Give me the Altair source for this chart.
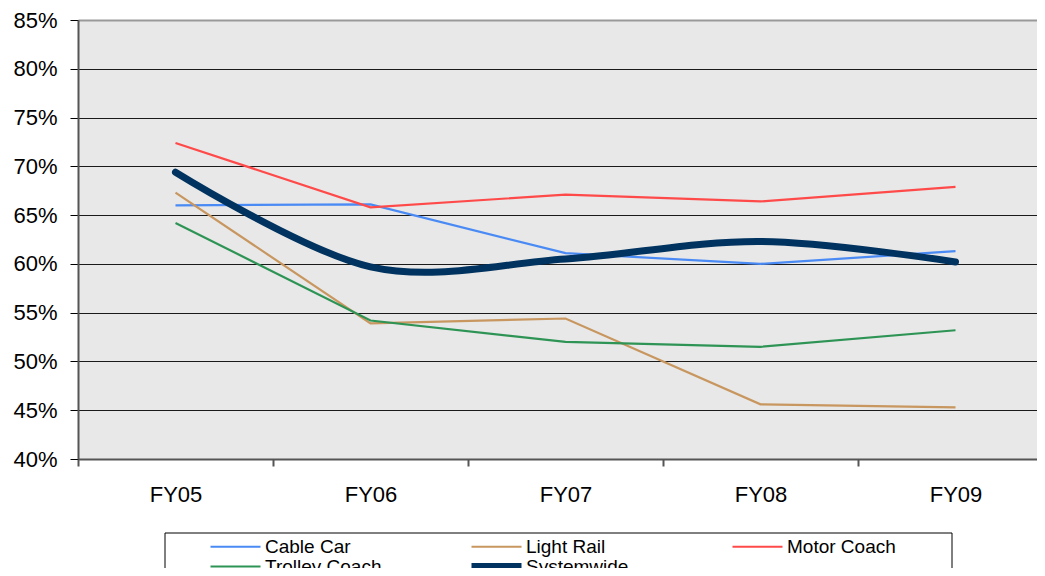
import altair as alt
import pandas as pd

categories = ["FY05", "FY06", "FY07", "FY08", "FY09"]
series_names = ["Cable Car", "Light Rail", "Motor Coach", "Trolley Coach", "Systemwide"]

cable_car = [66.0, 66.1, 61.1, 60.0, 61.3]
light_rail = [67.3, 53.9, 54.4, 45.6, 45.3]
motor_coach = [72.4, 65.8, 67.1, 66.4, 67.9]
trolley_coach = [64.2, 54.2, 52.0, 51.5, 53.2]
systemwide = [69.4, 59.7, 60.5, 62.3, 60.2]

y_ticks = [40, 45, 50, 55, 60, 65, 70, 75, 80, 85]

colors = ["#4a8af4", "#c8965f", "#ff4a4a", "#2e9455", "#00335f"]
widths = [2.2, 2.2, 2.2, 2.2, 7]

rows = []
for name, vals in zip(series_names, [cable_car, light_rail, motor_coach, trolley_coach, systemwide]):
    for i, (c, v) in enumerate(zip(categories, vals)):
        rows.append({"series": name, "idx": i, "year": c, "value": v})
df = pd.DataFrame(rows)

W, H = 959, 439
band = 195

label_arr = "[" + ",".join("'%s'" % c for c in categories) + "]"
x_vals = [v / 2 - 0.5 for v in range(0, 2 * len(categories))]

x_enc = alt.X(
    "idx:Q",
    scale=alt.Scale(domain=[-0.5, -0.5 + W / band], nice=False, zero=False),
    axis=alt.Axis(
        title=None,
        values=x_vals,
        labelExpr="datum.value % 1 === 0 ? " + label_arr + "[datum.value] : ''",
        tickColor={"condition": {"test": "datum.value % 1 !== 0", "value": "#555555"}, "value": "transparent"},
        tickSize=7,
        tickWidth=2,
        domainColor="#555555",
        domainWidth=2,
        grid=False,
        labelFontSize=22,
        labelFont="Liberation Sans",
        labelColor="#000000",
        labelPadding=18,
        labelFlush=False,
        labelOverlap=False,
    ),
)

y_enc = alt.Y(
    "value:Q",
    scale=alt.Scale(domain=[40, 85], nice=False, zero=False),
    axis=alt.Axis(
        title=None,
        values=y_ticks,
        labelExpr="datum.value + '%'",
        tickSize=8,
        tickColor="#000000",
        domainColor="#555555",
        domainWidth=2,
        grid=True,
        gridColor={"condition": {"test": "datum.value === 85", "value": "#999999"}, "value": "#1a1a1a"},
        gridWidth={"condition": {"test": "datum.value === 85", "value": 2}, "value": 1},
        labelFontSize=22,
        labelFont="Liberation Sans",
        labelColor="#000000",
        labelPadding=13,
    ),
)

leg = alt.Legend(
    orient="none",
    legendX=129,
    legendY=518,
    columns=3,
    direction="horizontal",
    title=None,
    symbolType="stroke",
    symbolSize=2500,
    clipHeight=17,
    labelFontSize=19,
    labelFont="Liberation Sans",
    labelColor="#000000",
    labelOffset=1,
    columnPadding=86,
    rowPadding=0,
    gridAlign="all",
    padding=0,
)

color_enc = alt.Color("series:O", scale=alt.Scale(domain=series_names, range=colors), legend=leg)
sw_enc = alt.StrokeWidth("series:O", scale=alt.Scale(type="ordinal", domain=series_names, range=widths), legend=leg)

box = alt.Chart(alt.Data(values=[{}])).mark_rect(fill="white", stroke="black", strokeWidth=1).encode(
    x=alt.value(87), x2=alt.value(874), y=alt.value(513), y2=alt.value(600)
)

thin = alt.Chart(df[df.series != "Systemwide"]).mark_line(interpolate="linear").encode(
    x=x_enc, y=y_enc, color=color_enc, strokeWidth=sw_enc, detail="series:N"
)

thick = alt.Chart(df[df.series == "Systemwide"]).mark_line(
    interpolate="cardinal", strokeCap="round", strokeJoin="round"
).encode(x=x_enc, y=y_enc, color=color_enc, strokeWidth=sw_enc)

chart = alt.layer(box, thin, thick).properties(
    width=W,
    height=H,
    autosize=alt.AutoSizeParams(type="none"),
    padding={"left": 70, "top": 12, "right": 0, "bottom": 109},
).configure_view(fill="#e8e8e8", stroke=None)

chart.save("out.html", embed_options={"renderer": "svg", "actions": False})
